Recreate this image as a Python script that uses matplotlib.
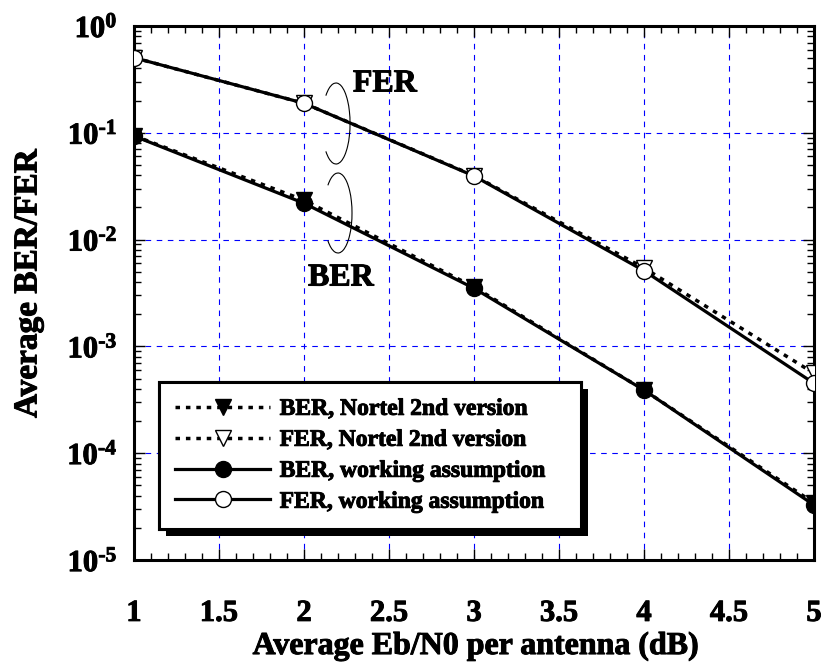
import matplotlib
matplotlib.use("Agg")
import matplotlib.pyplot as plt
import matplotlib.patheffects as pe
from matplotlib.patches import Arc
from matplotlib.font_manager import FontProperties

plt.rcParams['font.family'] = ['Liberation Serif', 'DejaVu Serif']
plt.rcParams['font.weight'] = 'bold'
plt.rcParams['mathtext.fontset'] = 'custom'
plt.rcParams['mathtext.rm'] = 'Liberation Serif:bold'
plt.rcParams['mathtext.bf'] = 'Liberation Serif:bold'
plt.rcParams['mathtext.it'] = 'Liberation Serif:bold'

# ---- data ----
ebn0 = [1, 2, 3, 4, 5]
ber_nortel = [0.094, 0.0234, 0.0036, 0.00039, 3.42e-5]
fer_nortel = [0.505, 0.189, 0.0397, 0.00543, 5.6e-4]
ber_work = [0.0933, 0.0219, 0.0035, 0.00039, 3.27e-5]
fer_work = [0.505, 0.189, 0.0394, 0.00511, 4.51e-4]

labels = ["BER, Nortel 2nd version", "FER, Nortel 2nd version",
          "BER, working assumption", "FER, working assumption"]
x_ticks = [1, 1.5, 2, 2.5, 3, 3.5, 4, 4.5, 5]
x_tick_labels = ["1", "1.5", "2", "2.5", "3", "3.5", "4", "4.5", "5"]
y_exps = [0, -1, -2, -3, -4, -5]
xlabel = "Average Eb/N0 per antenna (dB)"
ylabel = "Average BER/FER"

heavy = [pe.withStroke(linewidth=0.7, foreground='k')]

fig = plt.figure(figsize=(8.26, 6.68), dpi=100)
ax = fig.add_axes([134/826, 1-560/668, 680/826, 534/668])
ax.set_yscale('log')
ax.set_xlim(1, 5)
ax.set_ylim(1e-5, 1)

dot = (0, (1.3, 1.7))
ms = 11.5
l1, = ax.plot(ebn0, ber_nortel, linestyle=dot, color='k', lw=2.5, marker='v',
              ms=ms, mfc='k', mec='k', mew=1, zorder=3)
l2, = ax.plot(ebn0, fer_nortel, linestyle=dot, color='k', lw=2.5, marker='v',
              ms=ms, mfc='white', mec='k', mew=1, zorder=3)
l3, = ax.plot(ebn0, ber_work, linestyle='-', color='k', lw=2.3, marker='o',
              ms=ms, mfc='k', mec='k', mew=1, zorder=4)
l4, = ax.plot(ebn0, fer_work, linestyle='-', color='k', lw=2.3, marker='o',
              ms=ms, mfc='white', mec='k', mew=1, zorder=4)

ax.set_xticks(x_ticks, x_tick_labels)
ax.set_xticks([1 + 0.1*i for i in range(41)], minor=True)
ax.set_yticks([10.0**e for e in y_exps],
              [r'$10^{\text{%d}}$' % e for e in y_exps])
minor_y = [m * 10.0**e for e in range(-5, 0) for m in range(2, 10)]
ax.set_yticks(minor_y, minor=True)
ax.yaxis.set_minor_formatter(matplotlib.ticker.NullFormatter())

ax.tick_params(which='both', direction='in', top=True, right=True, width=1)
ax.tick_params(which='major', length=8)
ax.tick_params(which='minor', length=5)
ax.tick_params(axis='x', which='major', labelsize=22, pad=28)
ax.tick_params(axis='y', which='major', labelsize=22, pad=12)
for t in ax.get_xticklabels() + ax.get_yticklabels():
    t.set_fontweight('bold')
    t.set_path_effects(heavy)

ax.grid(which='major', color='#0000ff', linestyle=(0, (5, 5)), lw=0.8)
for s in ax.spines.values():
    s.set_linewidth(2.2)

ax.set_xlabel(xlabel, fontsize=23, fontweight='bold', path_effects=heavy)
ax.xaxis.set_label_coords(0.503, -0.162)
ax.xaxis.label.set_va('center')
ax.set_ylabel(ylabel, fontsize=24, fontweight='bold', path_effects=heavy)
ax.yaxis.set_label_coords(-0.156, 0.518)
ax.yaxis.label.set_va('center')

# annotations
ax.add_patch(Arc((0.2971, 0.8174), 0.0412, 0.1517, theta1=-106, theta2=106,
                 transform=ax.transAxes, color='k', lw=0.8, zorder=5))
ax.add_patch(Arc((0.3000, 0.6498), 0.0412, 0.1498, theta1=-106, theta2=106,
                 transform=ax.transAxes, color='k', lw=0.8, zorder=5))
ax.text(0.369, 0.8914, "FER", transform=ax.transAxes, fontsize=23,
        fontweight='bold', ha='center', va='center', path_effects=heavy)
ax.text(0.3044, 0.528, "BER", transform=ax.transAxes, fontsize=23,
        fontweight='bold', ha='center', va='center', path_effects=heavy)

legfont = FontProperties(family='Liberation Serif', weight='bold', size=17)
leg = ax.legend([l1, l2, l3, l4], labels, loc='lower left',
                bbox_to_anchor=(0.0368, 0.058, 0.62, 0.273), mode='expand',
                borderaxespad=0, fancybox=False, framealpha=1, prop=legfont,
                handlelength=4.0, handletextpad=0.42, labelspacing=0.4,
                borderpad=0.69, edgecolor='k')
for t in leg.get_texts():
    t.set_fontweight('bold')
    t.set_path_effects(heavy)
leg.set_zorder(6)
fr = leg.get_frame()
fr.set_linewidth(2.2)
fr.set_path_effects([pe.withSimplePatchShadow(offset=(5, -5), shadow_rgbFace='k', alpha=1),
                     pe.Normal()])

fig.savefig("out.png", dpi=100)
